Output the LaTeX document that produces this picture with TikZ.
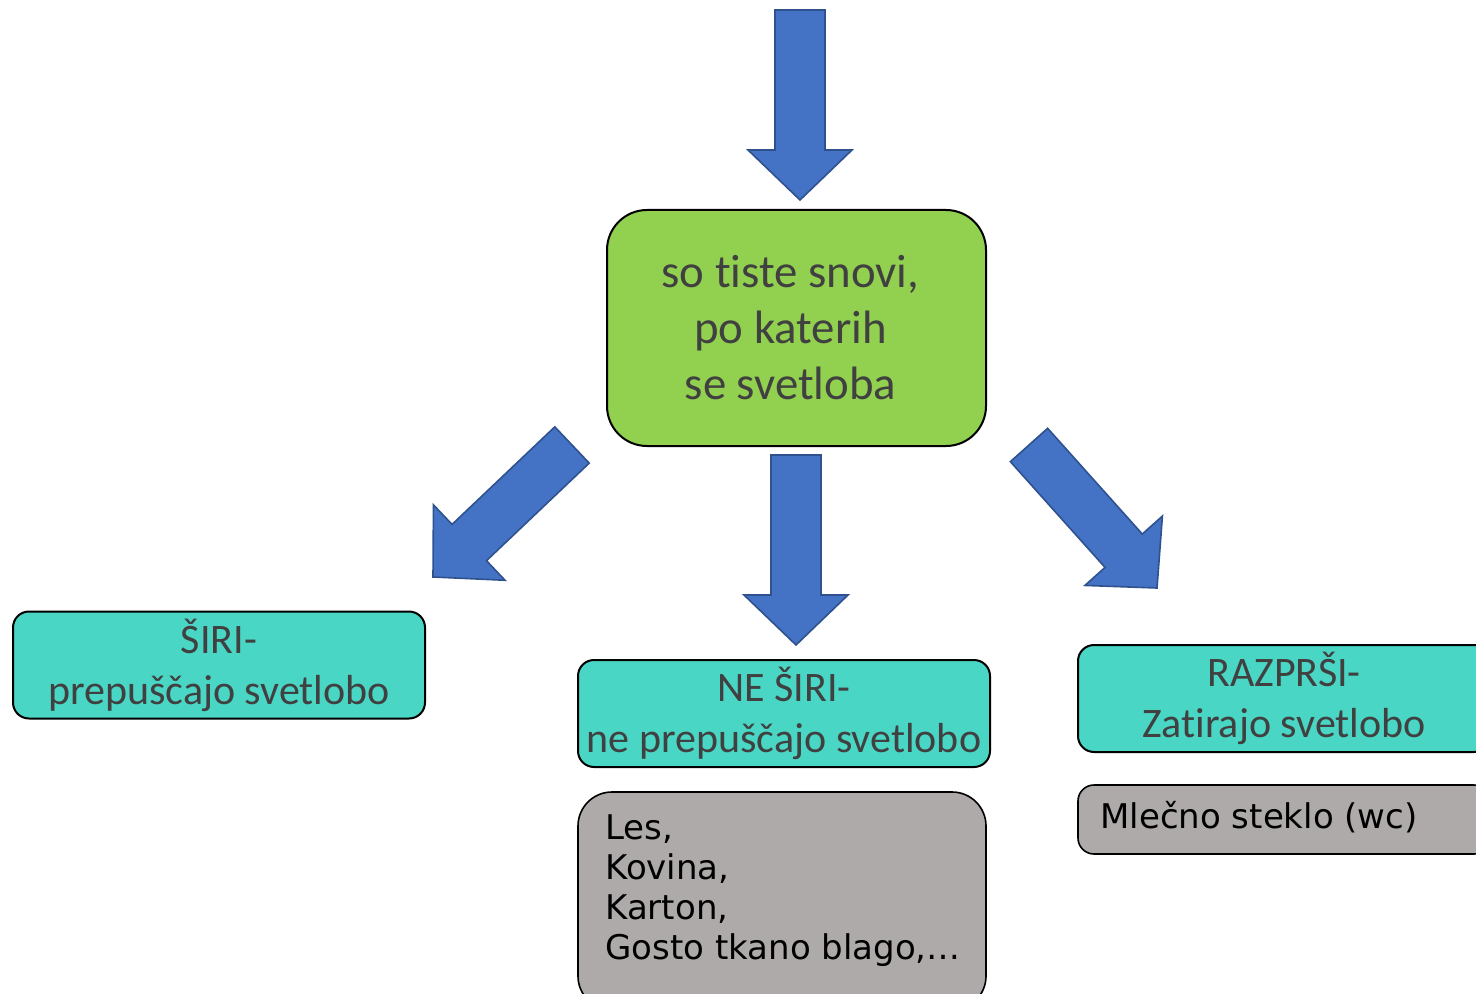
\documentclass[tikz,border=0pt]{standalone}
\usepackage{fontspec}
\setmainfont{Carlito}[Ligatures=NoCommon]
\newfontfamily\comicfont{DejaVu Sans}
\usetikzlibrary{calc}
\definecolor{arrowblue}{HTML}{4472C4}
\definecolor{arrowedge}{HTML}{2F528F}
\definecolor{boxgreen}{HTML}{92D050}
\definecolor{boxteal}{HTML}{4AD6C5}
\definecolor{boxgray}{HTML}{AEAAAA}
\definecolor{txtgray}{HTML}{404040}
\tikzset{
 barrow/.style={fill=arrowblue, draw=arrowedge, line width=0.8pt, line join=miter},
 greenbox/.style={draw=black, line width=1pt, fill=boxgreen, rounded corners=20pt, minimum width=189.5pt, minimum height=118pt, text=txtgray, align=center, font=\fontsize{23.4}{28}\selectfont, inner sep=0pt},
 tealbox/.style={draw=black, line width=1pt, fill=boxteal, rounded corners=8pt, minimum width=206pt, minimum height=53.5pt, text=txtgray, align=center, font=\fontsize{21}{25.5}\selectfont, inner sep=0pt},
 graybox/.style={draw=black, line width=0.8pt, fill=boxgray, inner sep=0pt},
 graytext/.style={anchor=west, align=left, text=black, font=\comicfont\fontsize{17}{20}\selectfont, inner sep=0pt}
}
\newcommand\blockarrow[2]{%
 \path ($(#2)!25pt!(#1)$) coordinate (hb);
 \draw[barrow] ($(#1)!12.5pt!90:(#2)$) -- ($(hb)!12.5pt!90:(#2)$) -- ($(hb)!26pt!90:(#2)$) -- (#2)
   -- ($(hb)!26pt!-90:(#2)$) -- ($(hb)!12.5pt!-90:(#2)$) -- ($(#1)!12.5pt!-90:(#2)$) -- cycle;}
\begin{document}
\begin{tikzpicture}[x=0.5pt,y=-0.5pt]
\path[use as bounding box] (0,0) rectangle (1476,994);
\clip (0,0) rectangle (1476,994);
\fill[white] (0,0) rectangle (1476,994);

% green box
\node[greenbox] (main) at (796.5,328) {\hspace*{-6pt}so tiste snovi,\\\hspace*{-6pt}po katerih\\\hspace*{-6pt}se svetloba};

% teal boxes
\node[tealbox] (siri) at (219,665) {ŠIRI-\\prepuščajo svetlobo};
\node[tealbox] (nesiri) at (784,713.5) {NE ŠIRI-\\ne prepuščajo svetlobo};
\node[tealbox] (razprsi) at (1284,698.5) {RAZPRŠI-\\Zatirajo svetlobo};

% gray boxes
\node[graybox, rounded corners=17pt, minimum width=204pt, minimum height=109pt] (grayM) at (782,901) {};
\node[graytext] (grayMtext) at (605,891) {Les,\\Kovina,\\Karton,\\Gosto tkano blago,…};
\node[graybox, rounded corners=8pt, minimum width=206pt, minimum height=34.5pt] (grayR) at (1284,819.5) {};
\node[graytext] (grayRtext) at (1100,817) {Mlečno steklo (wc)};

% arrows
\coordinate (tA) at (800,10);   \coordinate (tB) at (800,200);
\coordinate (mA) at (796,455);  \coordinate (mB) at (796,645);
\coordinate (lA) at (572,445);  \coordinate (lB) at (433,577);
\coordinate (rA) at (1029,445); \coordinate (rB) at (1157,588);
\blockarrow{tA}{tB}
\blockarrow{mA}{mB}
\blockarrow{lA}{lB}
\blockarrow{rA}{rB}
\end{tikzpicture}
\end{document}
